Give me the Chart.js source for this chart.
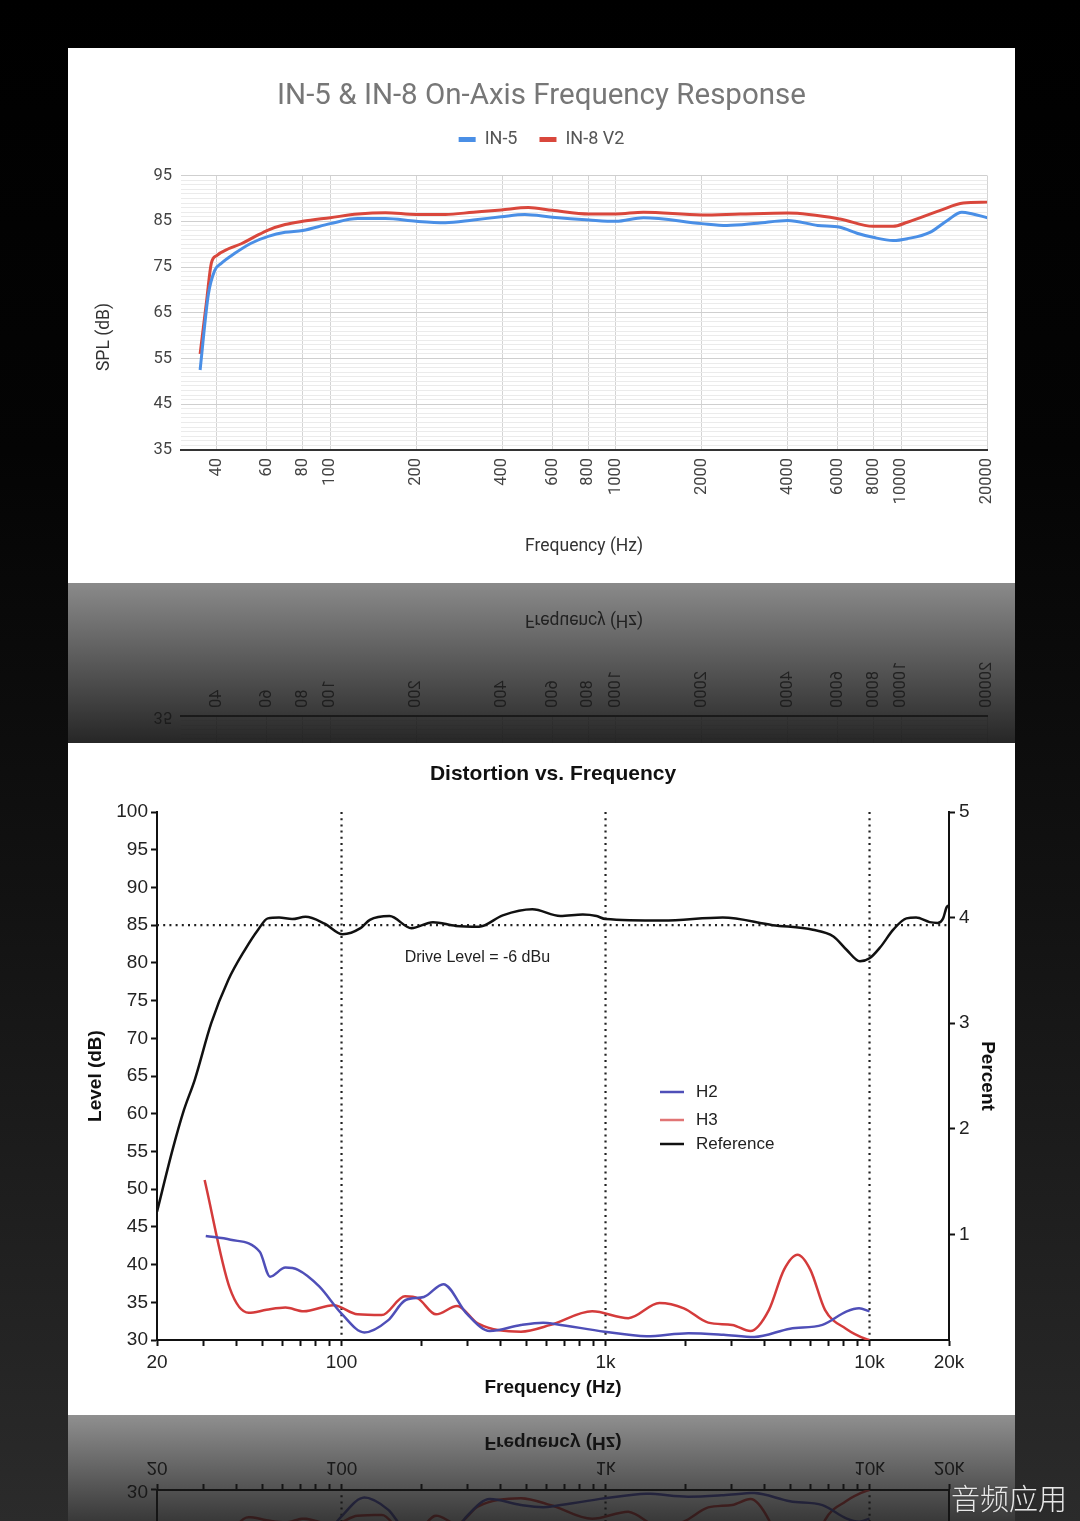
<!DOCTYPE html>
<html>
<head>
<meta charset="utf-8">
<script src="https://cdn.jsdelivr.net/npm/chart.js@4.4.0/dist/chart.umd.min.js"></script>
<style>
  html, body { margin: 0; padding: 0; }
  body {
    width: 1080px; height: 1521px; overflow: hidden; position: relative;
    background: linear-gradient(#000 0px, #040404 450px, #121212 900px, #2b2b2b 1521px);
  }
  .panel { position: absolute; left: 68px; width: 947px; background: #fff; }
  #p1 { top: 48px; height: 535px; }
  #p2 { top: 743px; height: 672px; }
  .refl { position: absolute; left: 68px; }
  #r1 { top: 583px; }
  #r2 { top: 1415px; }
  #wm { position: absolute; left: 951px; top: 1476px; font: 300 29px "Noto Sans CJK SC"; color: #e8e8e8; text-shadow: 0 0 2px #333; }
</style>
</head>
<body>
<div class="panel" id="p1"><canvas id="c1"></canvas></div>
<canvas class="refl" id="r1" width="947" height="160"></canvas>
<div class="panel" id="p2"><canvas id="c2"></canvas></div>
<canvas class="refl" id="r2" width="947" height="106"></canvas>
<div id="wm">音频应用</div>
<script>
// ---- top chart: on-axis response ----
const respTicks = [40, 60, 80, 100, 200, 400, 600, 800, 1000, 2000, 4000, 6000, 8000, 10000, 20000];
const in5Freq = [35, 37.4, 39.4, 41.5, 46.3, 52.8, 60.6, 69.5, 80, 100, 125, 156, 200, 253, 317, 397, 480, 600, 808, 1000, 1250, 2000, 2450, 3140, 4000, 5100, 6100, 7000, 7960, 9360, 10500, 12600, 14500, 16300, 17800, 20000];
const in5Spl  = [52.5, 69, 74.3, 75.8, 78, 80.2, 81.7, 82.6, 83, 84.5, 85.6, 85.6, 85, 84.7, 85.3, 86, 86.5, 85.9, 85.3, 85, 85.8, 84.5, 84.1, 84.6, 85.2, 84.1, 83.7, 82.4, 81.5, 80.8, 81.2, 82.6, 85.2, 87, 86.6, 85.8];
const in8Freq = [35, 36.9, 38.3, 40, 44, 48.8, 54.6, 60.6, 69.5, 80, 100, 125, 156, 200, 253, 317, 397, 494, 600, 808, 1000, 1250, 2000, 2730, 4000, 6100, 7960, 9360, 10500, 13700, 16500, 20000];
const in8Spl  = [56, 67.7, 75.8, 77.5, 79, 80.1, 81.7, 83.1, 84.3, 85, 85.8, 86.6, 86.9, 86.5, 86.5, 87, 87.5, 88, 87.4, 86.6, 86.6, 87, 86.4, 86.6, 86.8, 85.5, 83.9, 83.9, 84.8, 87.4, 89, 89.2];
const splMin = 35, splMax = 95;

// ---- bottom chart: distortion ----
const distTicks = [20, 30, 40, 50, 60, 70, 80, 90, 100, 200, 300, 400, 500, 600, 700, 800, 900,
                   1000, 2000, 3000, 4000, 5000, 6000, 7000, 8000, 9000, 10000, 20000];
const distMajor = [20, 100, 1000, 10000, 20000];
const distMajorLabels = ['20', '100', '1k', '10k', '20k'];
const refFreq = [20, 22.9, 25.3, 27.8, 32.1, 37.2, 43, 48.3, 52.6, 58, 65, 73, 86.3, 101, 118, 128, 152, 184, 222, 271, 332, 408, 528, 674, 820, 925, 1000, 1650, 2780, 4300, 6100, 7300, 8200, 9200, 10000, 11000, 12300, 13800, 15000, 16900, 18100, 19000, 19600, 20000];
const refLevel = [47, 55.2, 60.5, 64.5, 72, 77.7, 81.7, 84.4, 85.9, 86, 85.8, 86.1, 85.2, 83.8, 84.6, 85.7, 86.2, 84.6, 85.4, 84.9, 84.8, 86.3, 87.1, 86.2, 86.4, 86.2, 85.8, 85.6, 86, 85, 84.4, 83.5, 81.7, 80.2, 80.6, 82.1, 84.4, 85.9, 86, 85.4, 85.3, 85.9, 87.4, 87.6];
const h2Freq = [30.6, 38, 49, 53.6, 61.3, 68.4, 82.3, 100, 122, 150, 175, 205, 243, 298, 364, 478, 580, 651, 992, 1430, 2060, 2800, 3660, 5000, 6630, 8200, 9130, 10000];
const h2Level = [43.8, 43.3, 41.7, 38.4, 39.6, 39.3, 37.1, 33.5, 31, 32.6, 35.3, 35.7, 37.4, 33.5, 31.2, 32, 32.3, 32.1, 31.1, 30.5, 30.9, 30.7, 30.4, 31.5, 32, 33.8, 34.2, 33.8];
const h3Freq = [30.3, 37.7, 44.5, 52, 61.3, 71.9, 93.3, 115, 142, 174, 195, 228, 274, 328, 478, 620, 890, 1220, 1600, 1980, 2450, 3020, 3540, 4160, 4740, 5340, 5970, 6780, 8140, 9740, 10000];
const h3Level = [51.2, 36.9, 33.6, 34, 34.3, 33.8, 34.6, 33.4, 33.3, 35.8, 35.5, 33.4, 34.5, 32.2, 31.1, 32, 33.8, 32.9, 34.9, 34.2, 32.3, 32, 31.2, 34, 39.3, 41.3, 39.3, 34, 31.5, 30.1, 30];
const guideFreqs = [100, 1000, 10000];
const driveLevel = 85;
const noteFreq = 327, noteLevel = 80.7;

function pts(xs, ys) { return xs.map((x, i) => ({ x: x, y: ys[i] })); }

// mirrored copy of a rendered panel, used for the glossy reflection strip
function drawReflection(chart, id, a0, a1) {
  const out = document.getElementById(id);
  const ctx = out.getContext('2d');
  const W = chart.width, H = chart.height;
  ctx.setTransform(1, 0, 0, 1, 0, 0);
  ctx.clearRect(0, 0, out.width, out.height);
  ctx.setTransform(1, 0, 0, -1, 0, H);
  ctx.fillStyle = '#fff';
  ctx.fillRect(0, 0, W, H);
  ctx.filter = 'blur(0.6px)';
  ctx.drawImage(chart.canvas, 0, 0, W, H);
  ctx.filter = 'none';
  ctx.setTransform(1, 0, 0, 1, 0, 0);
  const g = ctx.createLinearGradient(0, 0, 0, out.height);
  g.addColorStop(0, 'rgba(22,22,22,' + a0 + ')');
  g.addColorStop(1, 'rgba(22,22,22,' + a1 + ')');
  ctx.fillStyle = g;
  ctx.fillRect(0, 0, out.width, out.height);
}

const mirror = {
  id: 'mirror',
  afterRender(chart, args, opts) { drawReflection(chart, opts.target, opts.a0, opts.a1); }
};

// the sheet puts its y title lower than the plot centre, so it is drawn here
const splTitle = {
  id: 'splTitle',
  afterDraw(chart) {
    const ctx = chart.ctx;
    ctx.save();
    ctx.translate(37, 289);
    ctx.rotate(-Math.PI / 2);
    ctx.fillStyle = '#333';
    ctx.font = '17.5px Roboto';
    ctx.textAlign = 'center';
    ctx.textBaseline = 'middle';
    ctx.fillText('SPL (dB)', 0, 0);
    ctx.restore();
  }
};

Chart.defaults.font.family = 'Roboto';

new Chart(document.getElementById('c1'), {
  type: 'line',
  data: {
    datasets: [
      { label: 'IN-5', data: pts(in5Freq, in5Spl), borderColor: '#4a8fe6', backgroundColor: '#4a8fe6',
        borderWidth: 3, pointRadius: 0, cubicInterpolationMode: 'monotone' },
      { label: 'IN-8 V2', data: pts(in8Freq, in8Spl), borderColor: '#d9473c', backgroundColor: '#d9473c',
        borderWidth: 3, pointRadius: 0, cubicInterpolationMode: 'monotone' }
    ]
  },
  options: {
    responsive: true, maintainAspectRatio: false, animation: false,
    layout: { padding: { left: 27, right: 27, top: 0, bottom: 0 } },
    plugins: {
      tooltip: { enabled: false },
      title: { display: true, text: 'IN-5 & IN-8 On-Axis Frequency Response', color: '#777',
        font: { size: 29.5, weight: 'normal' }, padding: { top: 30.6, bottom: -5.4 } },
      subtitle: { display: true, text: '', weight: 500, font: { size: 10, lineHeight: 1 }, padding: { top: 0, bottom: 7 } },
      legend: {
        labels: {
          boxWidth: 17, boxHeight: 5, padding: 22, color: '#555', font: { size: 18 },
          generateLabels: (chart) => Chart.defaults.plugins.legend.labels.generateLabels(chart)
            .map(l => Object.assign(l, { lineWidth: 0 }))
        }
      },
      mirror: { target: 'r1', a0: 0.5, a1: 0.93 }
    },
    scales: {
      x: {
        type: 'logarithmic', min: 30, max: 20000,
        afterBuildTicks: s => { s.ticks = respTicks.map(v => ({ value: v })); },
        afterFit: s => { s.height = 133; },
        ticks: { autoSkip: false, minRotation: 90, maxRotation: 90, padding: 8, color: '#444',
          font: { size: 16.5 }, callback: v => String(v) },
        grid: { color: '#d4d4d4', lineWidth: 1, drawTicks: false },
        border: { color: '#333', width: 2 },
        title: { display: true, text: 'Frequency (Hz)', color: '#333', font: { size: 17.5 },
          padding: { top: 0, bottom: 25.5 } }
      },
      y: {
        min: splMin, max: splMax,
        afterFit: s => { s.width = 86; },
        ticks: { stepSize: 1, autoSkip: false, padding: 9, color: '#444', font: { size: 16.5 },
          callback: v => ((v - splMin) % 10 === 0 ? v : '') },
        grid: { drawTicks: false, lineWidth: 1,
          color: c => (c.tick && (c.tick.value - splMin) % 10 === 0 ? '#cfcfcf' : '#ebebeb') },
        border: { display: false },
        title: { display: false }
      }
    }
  },
  plugins: [splTitle, mirror]
});

const decor = {
  id: 'decor',
  beforeDatasetsDraw(chart) {
    const { ctx, chartArea: a, scales: { x, y } } = chart;
    ctx.save();
    ctx.strokeStyle = '#222';
    ctx.lineWidth = 2.2;
    ctx.setLineDash([2, 4.2]);
    guideFreqs.forEach(f => {
      const px = x.getPixelForValue(f);
      ctx.beginPath(); ctx.moveTo(px, a.top); ctx.lineTo(px, a.bottom); ctx.stroke();
    });
    const py = y.getPixelForValue(driveLevel);
    ctx.beginPath(); ctx.moveTo(a.left, py); ctx.lineTo(a.right, py); ctx.stroke();
    ctx.setLineDash([]);
    ctx.fillStyle = '#222';
    ctx.font = '16px "Liberation Sans"';
    ctx.textAlign = 'center';
    ctx.textBaseline = 'middle';
    ctx.fillText('Drive Level = -6 dBu', x.getPixelForValue(noteFreq), y.getPixelForValue(noteLevel));
    ctx.restore();
  },
  afterDatasetsDraw(chart) {
    const ctx = chart.ctx;
    const rows = [349, 377, 401];
    ctx.save();
    ctx.font = '17px "Liberation Sans"';
    ctx.textAlign = 'left';
    ctx.textBaseline = 'middle';
    chart.data.datasets.forEach((d, i) => {
      ctx.strokeStyle = d.borderColor;
      ctx.globalAlpha = i === 1 ? 0.7 : 1;
      ctx.lineWidth = 2.5;
      ctx.beginPath(); ctx.moveTo(592, rows[i]); ctx.lineTo(616, rows[i]); ctx.stroke();
      ctx.globalAlpha = 1;
      ctx.fillStyle = '#222';
      ctx.fillText(d.label, 628, rows[i]);
    });
    ctx.restore();
  }
};

const axisFont = { family: 'Liberation Sans', size: 19 };
const axisTitleFont = { family: 'Liberation Sans', size: 19, weight: 'bold' };

new Chart(document.getElementById('c2'), {
  type: 'line',
  data: {
    datasets: [
      { label: 'H2', data: pts(h2Freq, h2Level), borderColor: '#4f4fb8', borderWidth: 2.5,
        pointRadius: 0, cubicInterpolationMode: 'monotone', yAxisID: 'y' },
      { label: 'H3', data: pts(h3Freq, h3Level), borderColor: '#d43b3b', borderWidth: 2.5,
        pointRadius: 0, cubicInterpolationMode: 'monotone', yAxisID: 'y' },
      { label: 'Reference', data: pts(refFreq, refLevel), borderColor: '#111', borderWidth: 2.5,
        pointRadius: 0, cubicInterpolationMode: 'monotone', yAxisID: 'y' }
    ]
  },
  options: {
    responsive: true, maintainAspectRatio: false, animation: false,
    layout: { padding: 0 },
    plugins: {
      tooltip: { enabled: false },
      legend: { display: false },
      title: { display: true, fullSize: false, text: 'Distortion vs. Frequency', color: '#111',
        font: { family: 'Liberation Sans', size: 21, weight: 'bold' }, padding: { top: 18.4, bottom: 25.4 } },
      mirror: { target: 'r2', a0: 0.48, a1: 0.85 }
    },
    scales: {
      x: {
        type: 'logarithmic', min: 20, max: 20000,
        afterBuildTicks: s => { s.ticks = distTicks.map(v => ({ value: v })); },
        afterFit: s => { s.height = 75; },
        ticks: { autoSkip: false, minRotation: 0, maxRotation: 0, padding: 5, color: '#222', font: axisFont,
          callback: v => { const i = distMajor.indexOf(v); return i < 0 ? '' : distMajorLabels[i]; } },
        grid: { drawOnChartArea: false, tickLength: 6, tickWidth: 2, tickColor: '#111' },
        border: { color: '#111', width: 2 },
        title: { display: true, text: 'Frequency (Hz)', color: '#111', font: axisTitleFont,
          padding: { top: 0, bottom: 15.6 } }
      },
      y: {
        position: 'left', min: 30, max: 100,
        afterFit: s => { s.width = 89; },
        ticks: { stepSize: 5, autoSkip: false, padding: 3, color: '#222', font: axisFont },
        grid: { drawOnChartArea: false, tickLength: 6, tickWidth: 2, tickColor: '#111' },
        border: { color: '#111', width: 2 },
        title: { display: true, text: 'Level (dB)', color: '#111', font: axisTitleFont, padding: { top: 16.6, bottom: 0 } }
      },
      y2: {
        position: 'right', min: 0, max: 5,
        afterFit: s => { s.width = 66; },
        ticks: { stepSize: 1, padding: 4, color: '#222', font: axisFont, callback: v => (v === 0 ? '' : v) },
        grid: { drawOnChartArea: false, tickLength: 6, tickWidth: 2,
          tickColor: c => (c.tick && c.tick.value === 0 ? 'rgba(0,0,0,0)' : '#111') },
        border: { color: '#111', width: 2 },
        title: { display: true, text: 'Percent', color: '#111', font: axisTitleFont, padding: { top: 16.6, bottom: 0 } }
      }
    }
  },
  plugins: [decor, mirror]
});
</script>
</body>
</html>
